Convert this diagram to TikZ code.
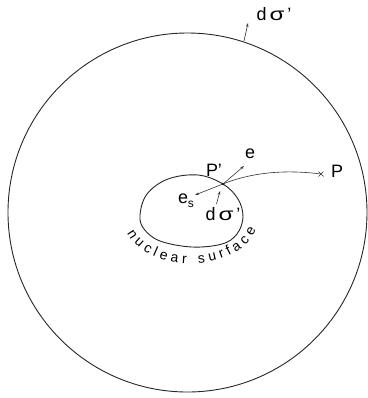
\documentclass[tikz,border=0pt]{standalone}
\usepackage{fontspec}
\setmainfont{Liberation Sans}
\usetikzlibrary{arrows.meta,decorations.text,calc}
\newcommand{\dsig}{d\hspace{3pt}\scalebox{1.35}[1]{σ}\hspace{3pt}'}
\begin{document}
\begin{tikzpicture}[x=1bp,y=-1bp,
  line/.style={line width=0.9bp,black!85},
  thin/.style={line width=0.6bp,black!80},
  vec/.style={line width=0.6bp,black!80,-{Stealth[length=4bp,width=2.6bp]}},
  lab/.style={inner sep=0pt,font=\fontsize{18}{20}\selectfont}]
\useasboundingbox (0,0) rectangle (368,398);
% big sphere
\node[draw,line,circle,minimum size=359bp,inner sep=0pt] (sphere) at (187.5,212.5) {};
% nuclear surface
\draw[line] plot[smooth cycle,tension=0.6] coordinates {(140,215) (147,194) (168,179) (198,175) (223,184) (238,199) (243,217) (237,234) (222,244) (192,247) (160,241) (144,229)};
\coordinate (Pp) at (223,184);
\coordinate (P) at (321,174);
\fill (Pp) circle (1.3bp);
% cross at P
\draw[thin] ($(P)+(-2.5,-2.5)$) -- ($(P)+(2.5,2.5)$);
\draw[thin] ($(P)+(-2.5,2.5)$) -- ($(P)+(2.5,-2.5)$);
% curve from P' to P
\draw[thin] (Pp) .. controls (255,171) and (290,170) .. (P);
% vectors
\coordinate (etip) at (244,166);
\coordinate (estip) at (195,195);
\coordinate (dsbase) at (216.5,204);
\coordinate (dstip) at (220,191);
\draw[vec] (Pp) -- (etip);
\draw[vec] (Pp) -- (estip);
\draw[vec] (dsbase) -- (dstip);
% outer d sigma
\coordinate (obase) at (244,41);
\coordinate (otip) at (248,23);
\draw[vec] (obase) -- (otip);
% labels
\node[lab] (lbl-dso) at (274,14) {\dsig};
\node[lab] (lbl-Pp) at (214,170) {P'};
\node[lab] (lbl-e) at (250,154) {e};
\node[lab] (lbl-es) at (186,201) {e\raisebox{-0.45ex}{\fontsize{12}{12}\selectfont s}};
\node[lab] (lbl-dsi) at (223,214) {\dsig};
\node[lab] (lbl-P) at (337,171) {P};
% curved text
\path[decorate,decoration={text along path,text align={fit to path},
  text={|\fontsize{14}{14}\selectfont|nuclear surface}}]
  (127,233) .. controls (149,274) and (236,274) .. (256,230);
\end{tikzpicture}
\end{document}
